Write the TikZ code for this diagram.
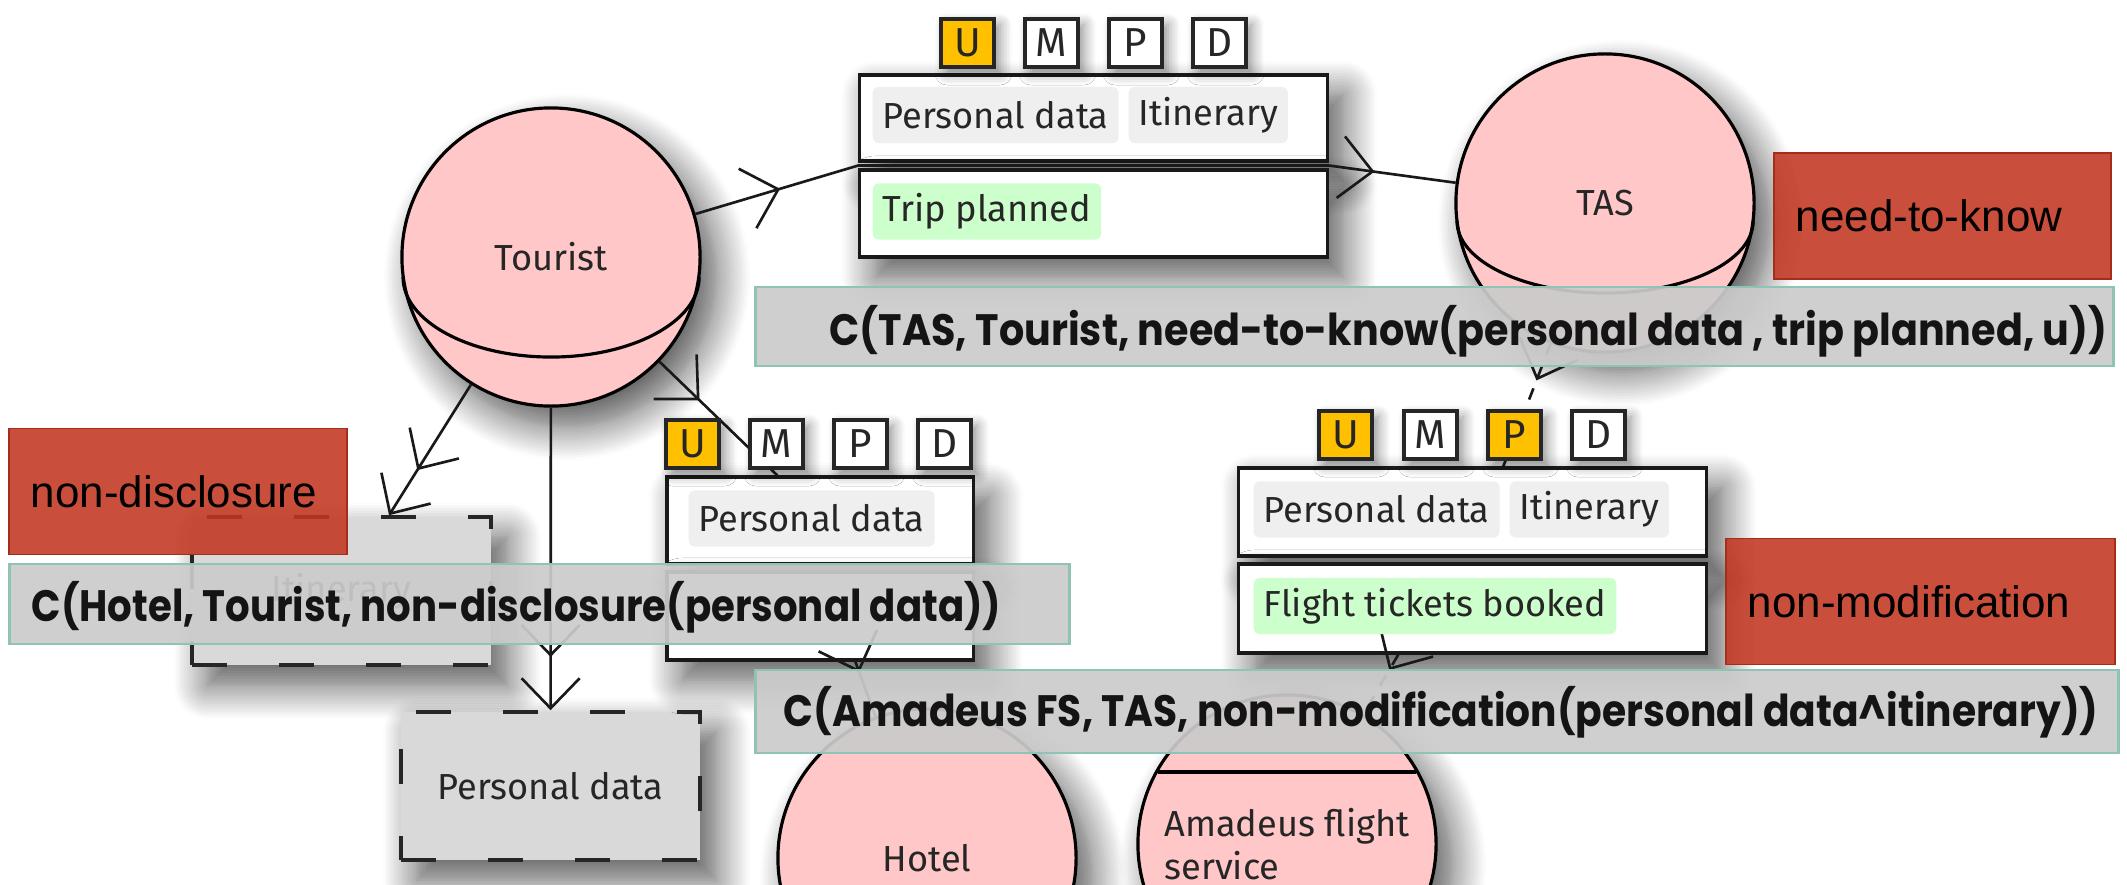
\documentclass[tikz,border=0pt]{standalone}
\usepackage{fontspec}
\usepackage{graphicx}
\setmainfont{Fira Sans}
\newfontfamily\tagfont{Liberation Sans}
\newfontfamily\claimfont{Poppins}
\usetikzlibrary{arrows.meta,decorations.markings,shadows.blur,calc}

\definecolor{procpink}{HTML}{FFC7C7}
\definecolor{normred}{HTML}{C23620}
\definecolor{claimgrey}{HTML}{CBCBCB}
\definecolor{claimedge}{HTML}{8EC3B5}
\definecolor{chipgrey}{HTML}{EFEFEF}
\definecolor{chipgreen}{HTML}{CCFFCC}
\definecolor{gold}{HTML}{FFC000}
\definecolor{storegrey}{HTML}{D9D9D9}

% squeeze a line of text horizontally to a given width
\newsavebox\fitbox
\newcommand\fitx[2]{\sbox\fitbox{#2}\dimen0=\wd\fitbox
  \pgfmathsetmacro\fitfactor{#1/\the\dimen0}\scalebox{\fitfactor}[1]{\usebox\fitbox}}

\tikzset{
  soft/.style={blur shadow={shadow xshift=0.16cm, shadow yshift=-0.2cm,
      shadow blur radius=0.34cm, shadow blur steps=14, shadow opacity=68}},
  softsmall/.style={blur shadow={shadow xshift=0.06cm, shadow yshift=-0.06cm,
      shadow blur radius=0.12cm, shadow blur steps=8, shadow opacity=45}},
  proc/.style={circle, draw=black, line width=0.9pt, fill=procpink,
      minimum size=2.98cm, inner sep=0pt, soft,
      font=\fontsize{10.3}{12.2}\selectfont, text=black!85},
  databox/.style={draw=black!90, line width=0.9pt, fill=white,
      inner sep=0pt, soft},
  chip/.style={fill=chipgrey, rounded corners=0.06cm, minimum height=0.56cm,
      inner xsep=0.1cm, inner ysep=0pt, font=\fontsize{10.3}{12}\selectfont,
      text=black!85, anchor=west},
  greenchip/.style={chip, fill=chipgreen},
  badge/.style={draw=black!85, line width=0.9pt, fill=white,
      minimum width=0.53cm, minimum height=0.48cm, inner sep=0pt,
      font=\fontsize{11.5}{12}\selectfont, text=black!85, softsmall},
  onbadge/.style={badge, fill=gold},
  store/.style={draw=black!85, line width=1pt, dash pattern=on 0.35cm off 0.52cm,
      fill=storegrey, minimum width=2.99cm, minimum height=1.48cm, inner sep=0pt,
      font=\fontsize{10.3}{12}\selectfont, text=black!85, soft},
  norm/.style={fill=normred, fill opacity=0.88, text opacity=1,
      draw=normred!85!black, line width=0.4pt, minimum height=1.26cm,
      inner ysep=0pt, inner xsep=0.22cm, align=left,
      font=\tagfont\fontsize{12.5}{14}\selectfont},
  claim/.style={fill=claimgrey, fill opacity=0.92, draw=claimedge,
      line width=0.7pt, inner sep=0pt},
  claimtext/.style={anchor=base west, inner sep=0pt,
      font=\claimfont\bfseries\fontsize{12.5}{14}\selectfont, text=black!92},
  flow/.style={line width=0.75pt, draw=black!90},
  midtip/.style={postaction={decorate}, decoration={markings,
      mark=at position #1 with {\arrow{Straight Barb[length=0.32cm,width=0.62cm]}}}},
  twotips/.style={-{Straight Barb[length=0.3cm,width=0.58cm,sep=0.2cm]Straight Barb[length=0.3cm,width=0.58cm]}},
  flowdash/.style={dash pattern=on 0.12cm off 0.12cm},
}

\begin{document}
\begin{tikzpicture}[x=0.01cm, y=-0.01cm]
\useasboundingbox (0,0) rectangle (2127,885);
\clip (0,0) rectangle (2127,885);

% processes
\node[proc] (tourist) at (551,257) {Tourist};
\draw[line width=0.9pt] ($(tourist.center)+(-148,20)$)
  arc[start angle=180, end angle=360, x radius=1.48cm, y radius=0.8cm];
\node[proc] (tas) at (1605,203) {TAS};
\draw[line width=0.9pt] ($(tas.center)+(-148,18)$)
  arc[start angle=180, end angle=360, x radius=1.48cm, y radius=0.72cm];
\node[proc] (hotel) at (927,858) {Hotel};
\node[proc, align=left] (amadeus) at (1287,844) {Amadeus flight\\service};
\draw[line width=0.9pt] ($(amadeus.center)+(-129,-72)$) -- ($(amadeus.center)+(129,-72)$);

% data stores
\node[store] (itin) at (341.5,591) {Itinerary};
\node[store] (pdata) at (550.5,786) {Personal data};

% message boxes
\node[databox, minimum width=4.67cm, minimum height=0.86cm] (tb1) at (1093.5,118) {};
\node[databox, minimum width=4.67cm, minimum height=0.87cm] (tb2) at (1093.5,213.5) {};
\node[databox, minimum width=3.06cm, minimum height=0.87cm] (mb1) at (820,520.5) {};
\node[databox, minimum width=3.06cm, minimum height=0.88cm] (mb2) at (820,616) {};
\node[databox, minimum width=4.67cm, minimum height=0.88cm] (fb1) at (1472.5,512) {};
\node[databox, minimum width=4.67cm, minimum height=0.89cm] (fb2) at (1472.5,608.5) {};

% connector ends on the messages
\coordinate (tin) at ($(tb1.south west)!0.5!(tb2.north west)$);
\coordinate (tout) at ($(tb1.south east)!0.5!(tb2.north east)$);
\coordinate (min) at ($(mb1.north west)+(112,0)$);
\coordinate (mout) at ($(mb2.south west)+(190,0)$);
\coordinate (fin) at ($(fb1.north west)+(266,0)$);
\coordinate (fout) at ($(fb2.south west)+(161,0)$);

% data flows
\draw[flow, midtip=0.52] (tourist) -- (tin);
\draw[flow] (tin) -- (tout);
\draw[flow, midtip=0.36] (tout) -- (tas);
\draw[flow, midtip=0.34] (tourist) -- (min);
\draw[flow, midtip=0.2] (mout) -- (hotel);
\draw[flow, twotips] (tourist) -- (itin);
\draw[flow, twotips] (tourist) -- (pdata);
\draw[flow, flowdash, midtip=0.3] (tas) -- (fin);
\draw[flow, flowdash, midtip=0.26] (fout) -- (amadeus);

% message contents
\node[chip] (tpd) at (872,115) {Personal data};
\node[chip] (tit) at (1128,115) {Itinerary};
\node[greenchip] (ttp) at (872,211.5) {Trip planned};
\node[chip] (mpd) at (688,518.5) {Personal data};
\node[chip] (fpd) at (1253,509.5) {Personal data};
\node[chip] (fit) at (1509,509.5) {Itinerary};
\node[greenchip] (ffb) at (1253,606) {Flight tickets booked};

% usage / modification / propagation / deletion flags
\node[onbadge] (tu) at (967.5,43) {U};
\node[badge] (tm) at (1051.5,43) {M};
\node[badge] (tp) at (1135.5,43) {P};
\node[badge] (td) at (1219.5,43) {D};
\node[onbadge] (mu) at (692.5,444) {U};
\node[badge] (mm) at (776.5,444) {M};
\node[badge] (mp) at (860.5,444) {P};
\node[badge] (md) at (944.5,444) {D};
\node[onbadge] (fu) at (1345.5,435) {U};
\node[badge] (fm) at (1430.5,435) {M};
\node[onbadge] (fp) at (1514.5,435) {P};
\node[badge] (fd) at (1598.5,435) {D};

% norms
\node[norm, text width=2.93cm] (ntk) at (1942.5,216) {need-to-know};
\node[norm, text width=2.94cm] (ndc) at (178,491.5) {non-disclosure};
\node[norm, text width=3.45cm] (nmd) at (1920.5,601.5) {non-modification};

% commitments
\node[claim, minimum width=13.57cm, minimum height=0.79cm] (c1) at (1434.5,326.5) {};
\node[claimtext] (c1t) at (829,345)
  {\fitx{12.77cm}{C(TAS, Tourist, need-to-know(personal data , trip planned, u))}};
\node[claim, minimum width=10.59cm, minimum height=0.8cm] (c2) at (539.5,604) {};
\node[claimtext] (c2t) at (31,621)
  {\fitx{9.69cm}{C(Hotel, Tourist, non-disclosure(personal data))}};
\node[claim, minimum width=13.62cm, minimum height=0.83cm] (c3) at (1437,711.5) {};
\node[claimtext] (c3t) at (783,726)
  {\fitx{13.14cm}{C(Amadeus FS, TAS, non-modification(personal data\textasciicircum itinerary))}};
\end{tikzpicture}
\end{document}
